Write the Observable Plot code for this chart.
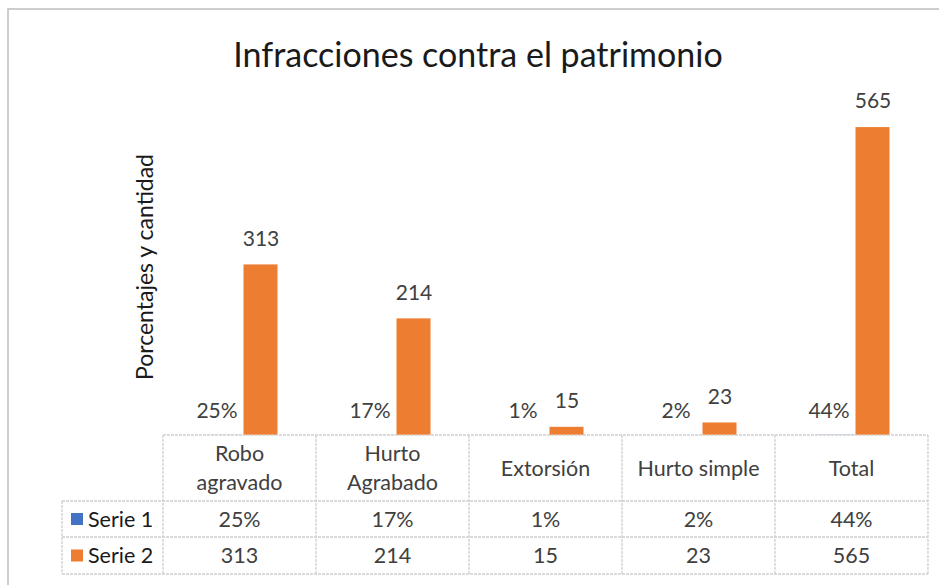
<!DOCTYPE html>
<html>
<head>
<meta charset="utf-8">
<script src="https://cdn.jsdelivr.net/npm/d3@7"></script>
<script src="https://cdn.jsdelivr.net/npm/@observablehq/plot@0.6"></script>
<style>
  html, body { margin: 0; padding: 0; background: #fff; }
  #chart svg { display: block; }
</style>
</head>
<body>
<div id="chart"></div>
<script>
const title = "Infracciones contra el patrimonio";
const yLabel = "Porcentajes y cantidad";
const categories = ["Robo agravado", "Hurto Agrabado", "Extorsión", "Hurto simple", "Total"];
const headerLines = [["Robo", "agravado"], ["Hurto", "Agrabado"], ["Extorsión"], ["Hurto simple"], ["Total"]];
const seriesNames = ["Serie 1", "Serie 2"];
const serie1 = [0.25, 0.17, 0.01, 0.02, 0.44];
const serie1Labels = ["25%", "17%", "1%", "2%", "44%"];
const serie2 = [313, 214, 15, 23, 565];
const colors = ["#4472C4", "#ED7D31"];

const FONT = "Lato, 'Open Sans', sans-serif";
const W = 939, H = 585;

const rows = categories.map((c, i) => ({cat: c, s1: serie1[i], s1l: serie1Labels[i], s2: serie2[i]}));

const plot = Plot.plot({
  width: W, height: H,
  marginLeft: 162, marginRight: 10, marginTop: 108, marginBottom: 150,
  style: {fontFamily: FONT, background: "#fff", overflow: "visible"},
  x: {type: "band", domain: categories, padding: 0, axis: null},
  y: {domain: [0, 600], axis: null},
  marks: [
    Plot.barY(rows, {x: "cat", y: "s1", fill: colors[0], insetLeft: 42, insetRight: 73}),
    Plot.barY(rows, {x: "cat", y: "s2", fill: colors[1], insetLeft: 80.5, insetRight: 38.5}),
    Plot.text(rows, {x: "cat", y: "s1", text: "s1l", dx: -23, dy: -24, fontSize: 21, fill: "#404040"}),
    Plot.text(rows, {x: "cat", y: "s2", text: d => String(d.s2), dx: 21, dy: -26, fontSize: 21, fill: "#404040"}),
    Plot.text([title], {frameAnchor: "top", dx: -68, dy: -66, fontSize: 34, fill: "#1a1a1a", textAnchor: "middle", text: d => d}),
    Plot.text([yLabel], {frameAnchor: "left", dx: -17, dy: -5, rotate: -90, fontSize: 23, fill: "#1a1a1a", textAnchor: "middle", text: d => d})
  ]
});

document.getElementById("chart").appendChild(plot);

const svg = d3.select(plot);
const xs = plot.scale("x");
const bw = xs.bandwidth;
const x0 = xs.apply(categories[0]);
const xEnd = xs.apply(categories[categories.length - 1]) + bw;
const yBase = plot.scale("y").apply(0);
const rowH = [66, 36, 37];
const yHead = yBase, yR1 = yHead + rowH[0], yR2 = yR1 + rowH[1], yEndT = yR2 + rowH[2];
const legendLeft = 62;
const g = svg.append("g").attr("font-family", FONT).attr("fill", "#404040").attr("text-anchor", "middle");
const lineC = "#cfcfcf";

function hline(y, xa, xb) {
  g.append("line").attr("x1", xa).attr("x2", xb).attr("y1", y).attr("y2", y)
    .attr("stroke", lineC).attr("stroke-width", 1.3).attr("stroke-dasharray", "3,1");
}
function vline(x, ya, yb) {
  g.append("line").attr("x1", x).attr("x2", x).attr("y1", ya).attr("y2", yb)
    .attr("stroke", lineC).attr("stroke-width", 1.3).attr("stroke-dasharray", "3,1");
}
hline(yHead, x0, xEnd);
hline(yR1, legendLeft, xEnd);
hline(yR2, legendLeft, xEnd);
hline(yEndT, legendLeft, xEnd);
vline(legendLeft, yR1, yEndT);
categories.forEach(c => vline(xs.apply(c), yHead, yEndT));
vline(xEnd, yHead, yEndT);

const TF = 21.5;
categories.forEach((c, i) => {
  const cx = xs.apply(c) + bw / 2;
  const lines = headerLines[i];
  const lh = 29;
  const mid = yHead + rowH[0] / 2;
  lines.forEach((t, k) => {
    g.append("text").attr("x", cx).attr("y", mid + (k - (lines.length - 1) / 2) * lh)
      .attr("dy", "0.35em").attr("text-anchor", "middle").attr("font-size", TF).text(t);
  });
  g.append("text").attr("x", cx).attr("y", yR1 + rowH[1] / 2).attr("dy", "0.35em")
    .attr("text-anchor", "middle").attr("font-size", TF).text(serie1Labels[i]);
  g.append("text").attr("x", cx).attr("y", yR2 + rowH[2] / 2).attr("dy", "0.35em")
    .attr("text-anchor", "middle").attr("font-size", TF).text(String(serie2[i]));
});

seriesNames.forEach((s, i) => {
  const yc = i === 0 ? yR1 + rowH[1] / 2 : yR2 + rowH[2] / 2;
  g.append("rect").attr("x", 71).attr("y", yc - 6).attr("width", 12).attr("height", 12).attr("fill", colors[i]);
  g.append("text").attr("x", 88).attr("y", yc).attr("dy", "0.35em").attr("text-anchor", "start")
    .attr("font-size", TF).attr("fill", "#1a1a1a").text(s);
});

svg.append("rect").attr("x", 8).attr("y", 9).attr("width", W + 20).attr("height", H + 20)
  .attr("fill", "none").attr("stroke", "#bdbdbd").attr("stroke-width", 1.5);
</script>
</body>
</html>
